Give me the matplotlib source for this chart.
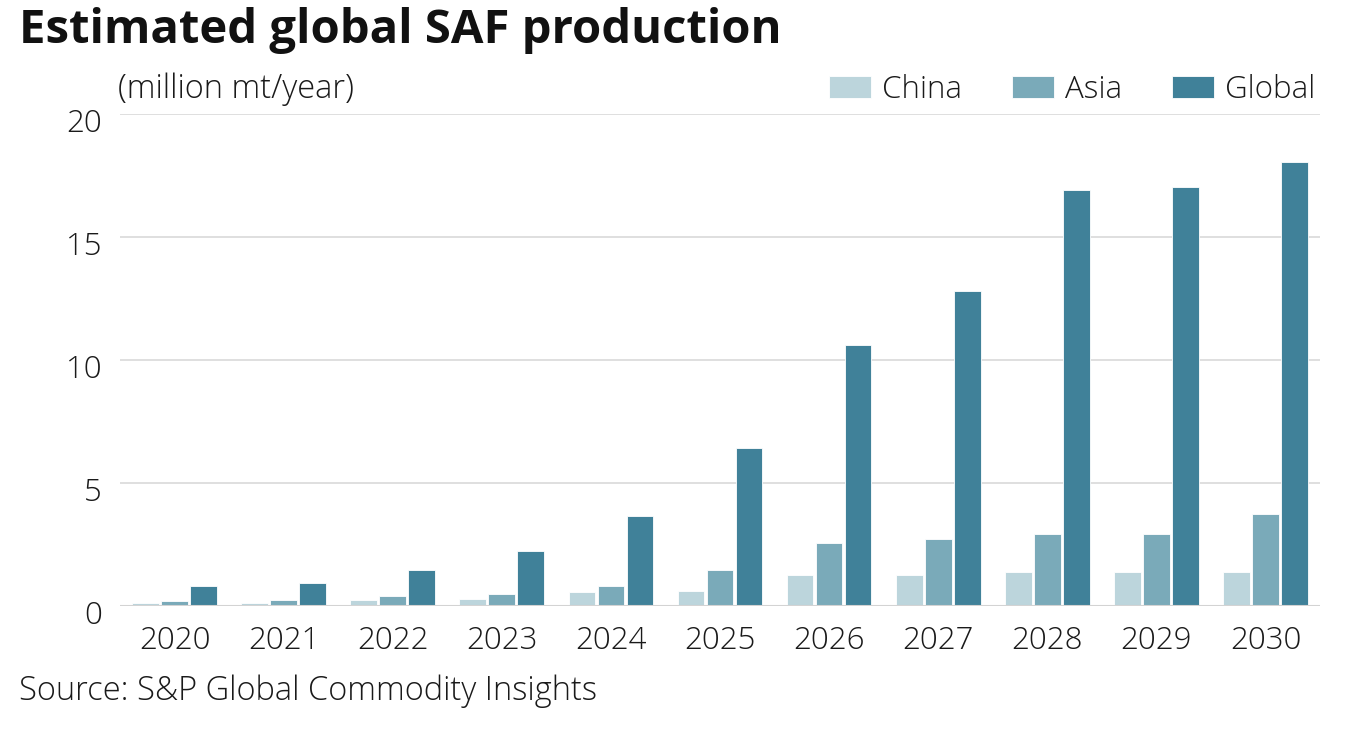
import numpy as np
from matplotlib import pyplot as plt
from matplotlib.transforms import ScaledTranslation

plt.rcParams['font.family'] = ['Open Sans', 'DejaVu Sans']

# values (million mt/year)
years = ['2020', '2021', '2022', '2023', '2024', '2025', '2026', '2027', '2028', '2029', '2030']
china = [0.11, 0.13, 0.26, 0.30, 0.56, 0.60, 1.26, 1.26, 1.37, 1.37, 1.37]
asia = [0.22, 0.24, 0.39, 0.49, 0.80, 1.45, 2.57, 2.72, 2.93, 2.93, 3.74]
global_ = [0.80, 0.93, 1.48, 2.24, 3.66, 6.41, 10.6, 12.78, 16.91, 17.0, 18.05]

series = [('China', china, '#bcd5dc'), ('Asia', asia, '#7aaab9'), ('Global', global_, '#408199')]

fs = 22.5

fig = plt.figure(figsize=(13.48, 7.3), dpi=100)
ax = fig.add_axes([120 / 1348, 1 - 606 / 730, 1200 / 1348, (606 - 113.5) / 730])

x = np.arange(len(years))
width = 0.245
offsets = [-0.266, 0, 0.266]
for (name, vals, col), off in zip(series, offsets):
    ax.bar(x + off, vals, width, color=col, label=name,
           edgecolor='white', linewidth=0.6, zorder=3)

ax.set_xlim(-0.5, len(years) - 0.5)
ax.set_ylim(0, 20)
ax.set_yticks([0, 5, 10, 15, 20])
ax.set_xticks(x)
ax.set_xticklabels(years)
ax.grid(axis='y', color='#d9d9d9', linewidth=1.2, zorder=0)
ax.axhline(0, color='#d3d3d3', linewidth=1.5, zorder=4)
for s in ax.spines.values():
    s.set_visible(False)
ax.tick_params(axis='both', length=0, labelsize=fs, colors='#1a1a1a')
ax.tick_params(axis='y', pad=13)
ax.tick_params(axis='x', pad=14)
for lab in ax.get_xticklabels() + ax.get_yticklabels():
    lab.set_fontweight('light')
# y labels sit a little below their gridlines in the original
shift = ScaledTranslation(0, -0.06, fig.dpi_scale_trans)
for lab in ax.get_yticklabels():
    lab.set_transform(lab.get_transform() + shift)

fig.text(19 / 1348, 1 - 31 / 730, 'Estimated global SAF production', fontsize=34,
         fontweight='bold', va='center', ha='left', color='#111111')
fig.text(118 / 1348, 1 - 89 / 730, '(million mt/year)', fontsize=23.5,
         fontweight='light', va='center', ha='left', color='#1a1a1a')
fig.text(19 / 1348, 1 - 691 / 730, 'Source: S&P Global Commodity Insights', fontsize=23.5,
         fontweight='light', va='center', ha='left', color='#1a1a1a')

leg = fig.legend(loc='center right', bbox_to_anchor=(1315 / 1348, 1 - 90 / 730), ncol=3,
                 frameon=False, fontsize=fs, handlelength=1.35, handleheight=0.67,
                 handletextpad=0.34, columnspacing=1.6, borderaxespad=0, borderpad=0)
for t in leg.get_texts():
    t.set_fontweight('light')
    t.set_color('#1a1a1a')

fig.savefig('out.png', dpi=100)
